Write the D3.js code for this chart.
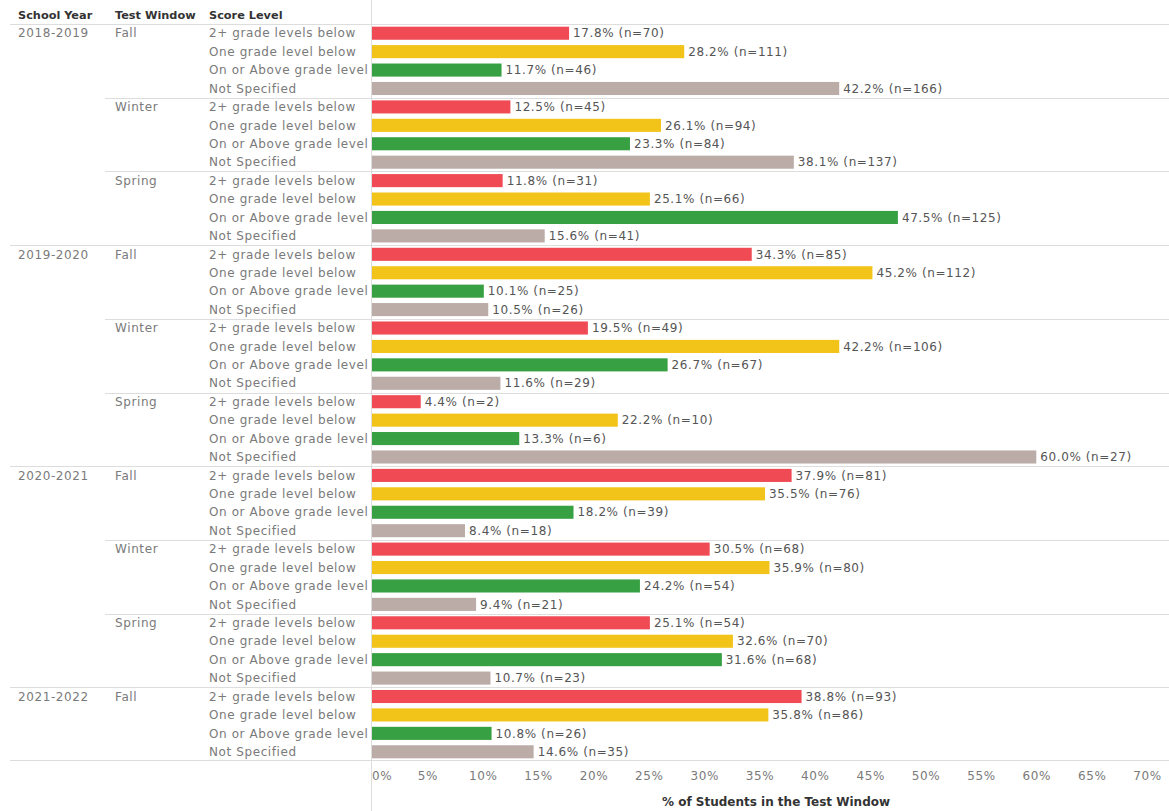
<!doctype html>
<html lang="en">
<head>
  <meta charset="utf-8">
  <title>Score Levels by Test Window</title>
  <style type="text/css">
    body{
      margin:0;
      background:#fff;
    }
    text{
      font-family: "DejaVu Sans", sans-serif;
    }
    .row-label, .axis-label{
      font-size:12px;
      letter-spacing:0.6px;
      fill:#7a7a7a;
    }
    .head{
      font-size:11.3px;
      font-weight:bold;
      fill:#333;
    }
    .title{
      font-size:12px;
      font-weight:bold;
      fill:#333;
    }
    .value{
      font-size:12px;
      letter-spacing:0.6px;
      fill:#555;
    }
    .grid{
      stroke:#ddd;
      stroke-width:1;
    }
  </style>
</head>
<body>
  <div id="vis"></div>
  <script src="https://cdn.jsdelivr.net/npm/d3@7"></script>
  <script type="text/javascript">

    var width = 1169,
      height = 811;

    var years = ['2018-2019','2019-2020','2020-2021','2021-2022'];
    var windows = [
      ['2018-2019','Fall'], ['2018-2019','Winter'], ['2018-2019','Spring'],
      ['2019-2020','Fall'], ['2019-2020','Winter'], ['2019-2020','Spring'],
      ['2020-2021','Fall'], ['2020-2021','Winter'], ['2020-2021','Spring'],
      ['2021-2022','Fall']
    ];
    var levels = ['2+ grade levels below','One grade level below','On or Above grade level','Not Specified'];
    var levelColors = ['#f04b55','#f2c318','#37a042','#bbaca8'];

    // percent per window, in level order
    var pct = [
      [17.8, 28.2, 11.7, 42.2],
      [12.5, 26.1, 23.3, 38.1],
      [11.8, 25.1, 47.5, 15.6],
      [34.3, 45.2, 10.1, 10.5],
      [19.5, 42.2, 26.7, 11.6],
      [4.4, 22.2, 13.3, 60.0],
      [37.9, 35.5, 18.2, 8.4],
      [30.5, 35.9, 24.2, 9.4],
      [25.1, 32.6, 31.6, 10.7],
      [38.8, 35.8, 10.8, 14.6]
    ];
    var counts = [
      [70, 111, 46, 166],
      [45, 94, 84, 137],
      [31, 66, 125, 41],
      [85, 112, 25, 26],
      [49, 106, 67, 29],
      [2, 10, 6, 27],
      [81, 76, 39, 18],
      [68, 80, 54, 21],
      [54, 70, 68, 23],
      [93, 86, 26, 35]
    ];
    var ticks = [0,5,10,15,20,25,30,35,40,45,50,55,60,65,70];

    var rows = [];
    windows.forEach(function(w, wi){
      levels.forEach(function(l, li){
        rows.push({year:w[0], win:w[1], level:l, li:li, wi:wi,
          pct:pct[wi][li], n:counts[wi][li], id:wi+'_'+li});
      });
    });

    var svg = d3.select("#vis").append("svg")
      .attr("width", width)
      .attr("height", height);

    var x = d3.scaleLinear().domain([0,70]).range([372,1147]);
    var y = d3.scaleBand().domain(rows.map(function(d){ return d.id; }))
      .range([24,761]).paddingInner(0.29).paddingOuter(0.145);
    var step = y.step();

    // header
    var heads = [['School Year',18],['Test Window',115],['Score Level',209]];
    svg.selectAll('.head').data(heads).enter().append('text')
      .attr('class','head')
      .attr('x', function(d){ return d[1]; })
      .attr('y', 19)
      .text(function(d){ return d[0]; });

    // separators
    var gridG = svg.append('g');
    gridG.append('line').attr('class','grid')
      .attr('x1',10).attr('x2',width).attr('y1',24.5).attr('y2',24.5);
    gridG.append('line').attr('class','grid')
      .attr('x1',10).attr('x2',width).attr('y1',760.5).attr('y2',760.5);
    windows.forEach(function(w, wi){
      if(wi === 0) return;
      var yy = Math.round(y(wi+'_0') - step*0.145) + 0.5;
      var newYear = w[0] !== windows[wi-1][0];
      gridG.append('line').attr('class','grid')
        .attr('x1', newYear ? 10 : 105).attr('x2', width)
        .attr('y1', yy).attr('y2', yy);
    });
    gridG.append('line').attr('class','grid')
      .attr('x1',371.5).attr('x2',371.5).attr('y1',0).attr('y2',height);

    // year and window labels
    windows.forEach(function(w, wi){
      var yy = y(wi+'_0') + y.bandwidth()/2;
      if(wi === 0 || w[0] !== windows[wi-1][0]){
        svg.append('text').attr('class','row-label')
          .attr('x',18).attr('y',yy).attr('dy','0.35em').text(w[0]);
      }
      svg.append('text').attr('class','row-label')
        .attr('x',115).attr('y',yy).attr('dy','0.35em').text(w[1]);
    });

    // level labels
    svg.append('g').selectAll('text').data(rows).enter().append('text')
      .attr('class','row-label')
      .attr('x',209)
      .attr('y', function(d){ return y(d.id) + y.bandwidth()/2; })
      .attr('dy','0.35em')
      .text(function(d){ return d.level; });

    // bars
    svg.append('g').selectAll('rect').data(rows).enter().append('rect')
      .attr('x', x(0))
      .attr('y', function(d){ return y(d.id); })
      .attr('width', function(d){ return x(d.pct) - x(0); })
      .attr('height', y.bandwidth())
      .style('fill', function(d){ return levelColors[d.li]; });

    svg.append('g').selectAll('text').data(rows).enter().append('text')
      .attr('class','value')
      .attr('x', function(d){ return x(d.pct) + 4; })
      .attr('y', function(d){ return y(d.id) + y.bandwidth()/2; })
      .attr('dy','0.35em')
      .text(function(d){ return d.pct.toFixed(1) + '% (n=' + d.n + ')'; });

    // axis
    var axis = d3.axisBottom(x).tickValues(ticks).tickSize(0)
      .tickFormat(function(d){ return d + '%'; });
    var axisG = svg.append('g').attr('transform','translate(0,768)').call(axis);
    axisG.select('.domain').remove();
    axisG.selectAll('text').attr('class','axis-label')
      .style('font-family','"DejaVu Sans", sans-serif')
      .style('font-size','12px')
      .attr('dx', function(d){ return d === 0 ? '0.8em' : 0; });

    svg.append('text').attr('class','title')
      .attr('x', 776).attr('y', 806)
      .attr('text-anchor','middle')
      .text('% of Students in the Test Window');

  </script>
</body>
</html>
